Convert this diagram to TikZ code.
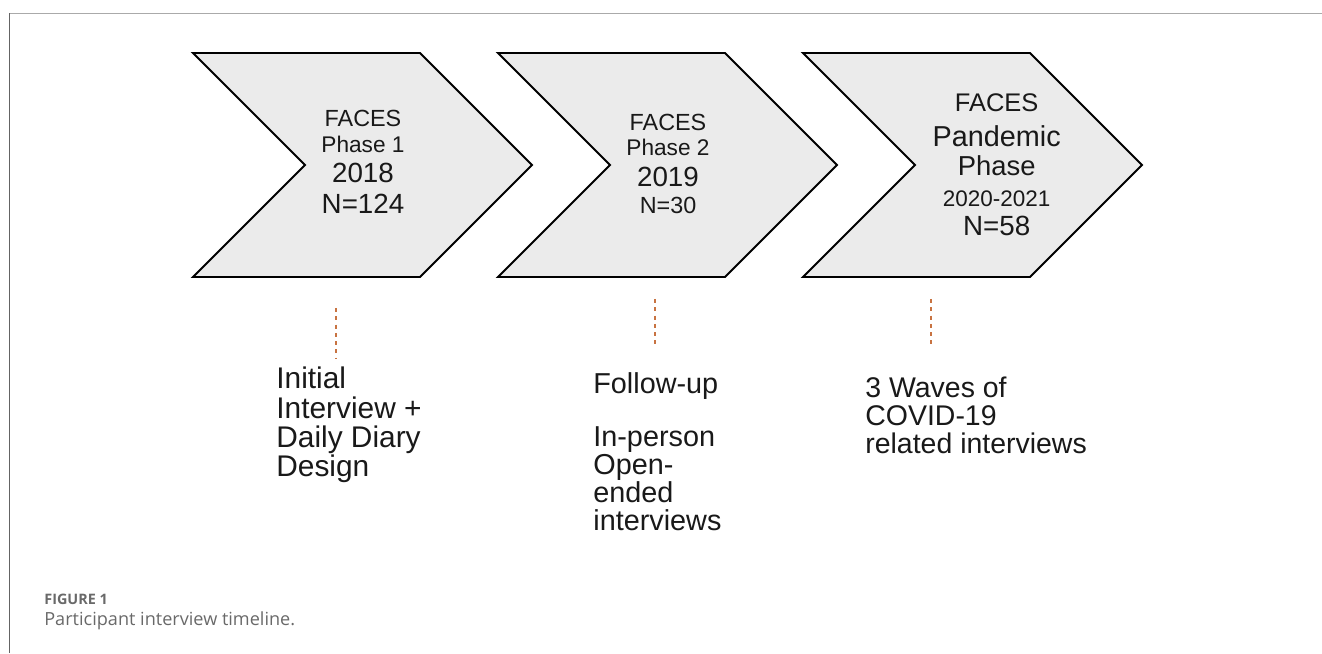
\documentclass[tikz,border=0pt]{standalone}
\usepackage{fontspec}
\setmainfont{Liberation Sans}
\newfontfamily\captionfont{Open Sans}
\usetikzlibrary{shapes.symbols, positioning}
\definecolor{chevfill}{RGB}{235,235,235}
\definecolor{leaderorange}{RGB}{200,115,65}
\definecolor{frametop}{RGB}{170,170,170}
\definecolor{frameleft}{RGB}{100,100,100}
\definecolor{captiongray}{RGB}{105,105,105}

\begin{document}
\begin{tikzpicture}[
    x=0.02cm, y=-0.02cm,
    phase/.style={signal, signal from=west, signal to=east, draw=black, line width=1.1pt, fill=chevfill, minimum width=6.78cm, minimum height=4.48cm, inner sep=0pt},
    phasetext/.style={anchor=north, inner sep=0pt, align=center, text=black!90},
    desc/.style={anchor=north west, inner sep=0pt, align=left, text=black!90},
    leader/.style={draw=leaderorange, line width=0.85pt, dash pattern=on 0.08cm off 0.086cm}
]
\useasboundingbox (0,0) rectangle (1322,653);

% frame of the figure
\draw[frametop, line width=0.026cm] (9.3,13.3) -- (1322,13.3);
\draw[frameleft, line width=0.026cm] (9.3,13.3) -- (9.3,653);

% phases
\node[phase] (chevA) at (362.5,165) {};
\node[phase] (chevB) at (667.5,165) {};
\node[phase] (chevC) at (972.5,165) {};

\node[phasetext, font=\fontsize{13.3}{14.6}\selectfont] (txtA) at (363,110) {FACES\\{\fontsize{12.9}{12.9}\selectfont Phase 1}\\[2.4pt]{\fontsize{15.8}{15.8}\selectfont 2018}\\[3pt]{\fontsize{15.8}{15.8}\selectfont N=124}};
\node[phasetext, font=\fontsize{13.3}{14.2}\selectfont] (txtB) at (668,113.5) {FACES\\{\fontsize{12.9}{12.9}\selectfont Phase 2}\\[3.4pt]{\fontsize{15.8}{15.8}\selectfont 2019}\\[1.3pt]{\fontsize{13.3}{13.3}\selectfont N=30}};
\node[phasetext, font=\fontsize{14.5}{16.3}\selectfont] (txtC) at (996.7,93.3) {FACES\\[3.5pt]{\fontsize{16.4}{16.4}\selectfont Pandemic}\\[0.3pt]{\fontsize{15.6}{15.6}\selectfont Phase}\\[1.4pt]{\fontsize{12.8}{12.8}\selectfont 2020-2021}\\{\fontsize{15.8}{15.8}\selectfont N=58}};

% what happened in each phase
\node[desc, font=\fontsize{17}{16.7}\selectfont] (descA) at (276,366.8) {Initial\\Interview +\\Daily Diary\\Design};
\node[desc, font=\fontsize{16.4}{15.9}\selectfont] (descB) at (593,372.5) {Follow-up\\[14pt]In-person\\Open-\\ended\\interviews};
\node[desc, font=\fontsize{16.2}{16}\selectfont] (descC) at (865,376.3) {3 Waves of\\COVID-19\\related interviews};

\draw[leader, shorten <=0.6cm, shorten >=0.176cm] ([xshift=-0.53cm]chevA.south) -- ([xshift=-0.53cm]chevA.south |- descA.north);
\draw[leader, shorten <=0.42cm, shorten >=0.55cm] ([xshift=-0.25cm]chevB.south) -- ([xshift=-0.25cm]chevB.south |- descB.north);
\draw[leader, shorten <=0.42cm, shorten >=0.626cm] ([xshift=-0.83cm]chevC.south) -- ([xshift=-0.83cm]chevC.south |- descC.north);

% caption
\node[anchor=base west, inner sep=0pt, font=\captionfont\bfseries\fontsize{8.2}{10}\selectfont, text=captiongray] (figlabel) at (44,604.7) {FIGURE 1};
\node[anchor=base west, inner sep=0pt, font=\captionfont\fontsize{10.3}{12}\selectfont, text=captiongray] (figcaption) at (44,625.3) {Participant interview timeline.};

\end{tikzpicture}
\end{document}
